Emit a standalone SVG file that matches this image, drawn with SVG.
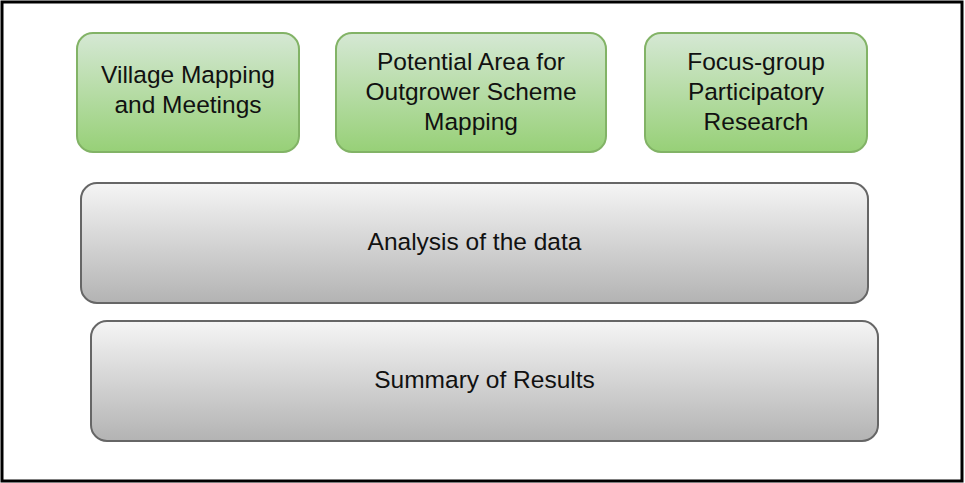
<svg xmlns="http://www.w3.org/2000/svg" width="965" height="483" viewBox="0 0 965 483">
  <defs>
    <linearGradient id="gGreen" x1="0" y1="0" x2="0" y2="1">
      <stop offset="0" stop-color="#d5e8d4"/>
      <stop offset="1" stop-color="#97d077"/>
    </linearGradient>
    <linearGradient id="gGray" x1="0" y1="0" x2="0" y2="1">
      <stop offset="0" stop-color="#f5f5f5"/>
      <stop offset="1" stop-color="#b3b3b3"/>
    </linearGradient>
  </defs>
  <style>
    .frame { fill: #ffffff; stroke: #000000; stroke-width: 3; }
    .green { fill: url(#gGreen); stroke: #82b366; stroke-width: 2; }
    .gray { fill: url(#gGray); stroke: #666666; stroke-width: 2; }
    text { font-family: "Liberation Sans", Arial, sans-serif; font-size: 24.5px; fill: #111111; text-anchor: middle; }
  </style>

  <rect class="frame" x="2" y="2" width="960" height="479"/>

  <g id="village-mapping">
    <rect class="green" x="77" y="33" width="222" height="119" rx="16"/>
    <text x="188" y="83">Village Mapping</text>
    <text x="188" y="113">and Meetings</text>
  </g>

  <g id="outgrower-mapping">
    <rect class="green" x="336" y="33" width="270" height="119" rx="16"/>
    <text x="471" y="70">Potential Area for</text>
    <text x="471" y="100">Outgrower Scheme</text>
    <text x="471" y="130">Mapping</text>
  </g>

  <g id="focus-group">
    <rect class="green" x="645" y="33" width="222" height="119" rx="16"/>
    <text x="756" y="70">Focus-group</text>
    <text x="756" y="100">Participatory</text>
    <text x="756" y="130">Research</text>
  </g>

  <g id="analysis">
    <rect class="gray" x="81" y="183" width="787" height="120" rx="16"/>
    <text x="474.5" y="250">Analysis of the data</text>
  </g>

  <g id="summary">
    <rect class="gray" x="91" y="321" width="787" height="120" rx="16"/>
    <text x="484.5" y="388">Summary of Results</text>
  </g>

  <g id="connectors"/>
</svg>
